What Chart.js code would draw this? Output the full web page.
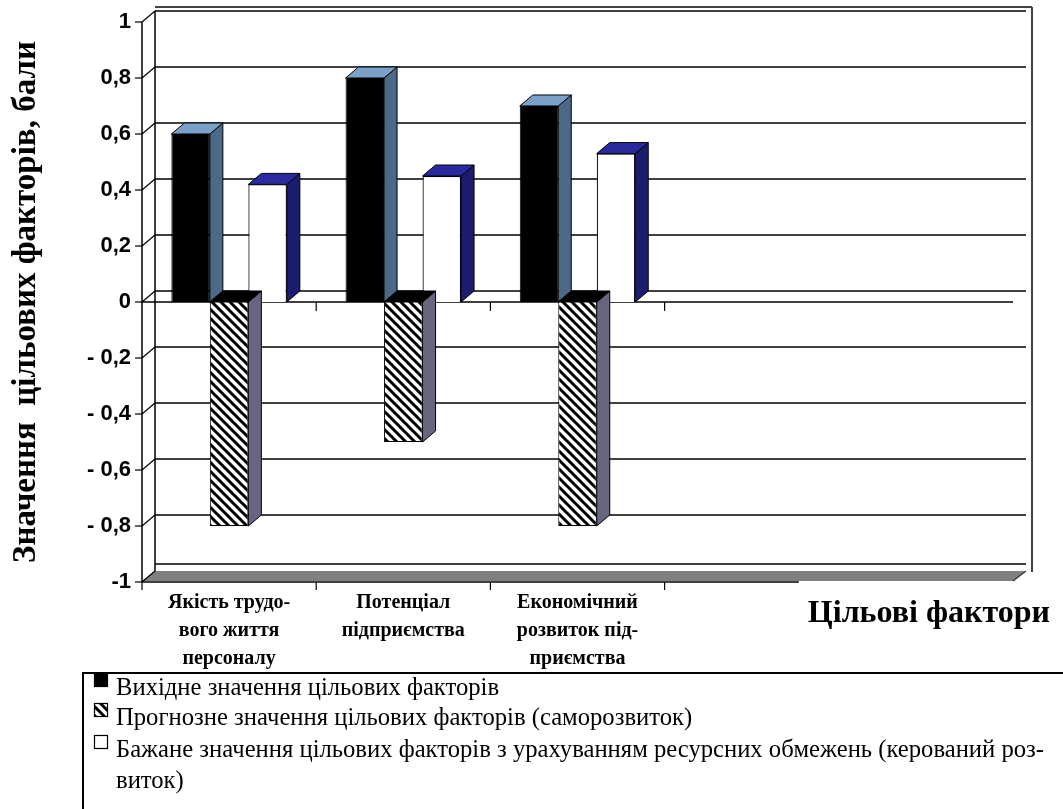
<!DOCTYPE html>
<html><head><meta charset="utf-8">
<script src="https://cdn.jsdelivr.net/npm/chart.js@4.4.0/dist/chart.umd.min.js"></script>
<style>html,body{margin:0;padding:0;background:#fff;}#wrap{width:1063px;height:809px;}</style>
</head><body><div id="wrap"><canvas id="c" width="1063" height="809"></canvas></div>
<script>
// ---- data ----
const categories = [["Якість трудо-","вого життя","персоналу"],["Потенціал","підприємства"],["Економічний","розвиток під-","приємства"],"",""];
const seriesNames = ["Вихідне значення цільових факторів","Прогнозне значення цільових факторів (саморозвиток)","Бажане значення цільових факторів з урахуванням ресурсних обмежень (керований розвиток)"];
const legendLines = [["Вихідне значення цільових факторів"],["Прогнозне значення цільових факторів (саморозвиток)"],["Бажане значення цільових факторів з урахуванням ресурсних обмежень (керований роз-","виток)"]];
const initialValues = [0.6, 0.8, 0.7, null, null];
const forecastValues = [-0.8, -0.5, -0.8, null, null];
const desiredValues = [0.42, 0.45, 0.53, null, null];
const yTickLabels = ["-1","- 0,8","- 0,6","- 0,4","- 0,2","0","0,2","0,4","0,6","0,8","1"];
const yTitle = "Значення  цільових факторів, бали";
const xTitle = "Цільові фактори";

// ---- styles ----
const DX = 13, DY = 11;
function hatchPattern(){
  const s=9, c=document.createElement('canvas'); c.width=c.height=s;
  const g=c.getContext('2d'); g.fillStyle='#fff'; g.fillRect(0,0,s,s);
  g.strokeStyle='#000'; g.lineWidth=3; g.beginPath();
  g.moveTo(-3,-3); g.lineTo(s+3,s+3); g.moveTo(-3,s-3); g.lineTo(3,s+3); g.moveTo(s-3,-3); g.lineTo(s+3,3); g.stroke();
  return g.createPattern(c,'repeat');
}
const HATCH = hatchPattern();
const faceColors = [
  {top:'#7CA1C8', side:'#4C6A88'},
  {top:'#000000', side:'#666680'},
  {top:'#2A2AA0', side:'#1D1D70'}
];

function poly(ctx, pts, fill){
  ctx.beginPath(); ctx.moveTo(pts[0][0],pts[0][1]);
  for(let i=1;i<pts.length;i++) ctx.lineTo(pts[i][0],pts[i][1]);
  ctx.closePath(); ctx.fillStyle=fill; ctx.fill(); ctx.strokeStyle='#000'; ctx.lineWidth=1; ctx.stroke();
}
function line(ctx,x1,y1,x2,y2,w,col){ctx.beginPath();ctx.moveTo(x1,y1);ctx.lineTo(x2,y2);ctx.lineWidth=w||1.5;ctx.strokeStyle=col||'#000';ctx.stroke();}

const scene = {
  id:'scene',
  beforeDatasetsDraw(chart){
    const ctx=chart.ctx, y=chart.scales.y, x=chart.scales.x, a=chart.chartArea;
    const L=a.left, R=a.right;
    ctx.save();
    line(ctx, L+DX, y.getPixelForValue(1)-DY-4, R+DX+6, y.getPixelForValue(1)-DY-4, 2, '#444');
    line(ctx, R+DX+6, y.getPixelForValue(1)-DY-4, R+DX+6, y.getPixelForValue(-1)-DY+1, 2, '#444');
    const yb=y.getPixelForValue(-1);
    ctx.beginPath(); ctx.moveTo(L,yb-1); ctx.lineTo(R,yb-1); ctx.lineTo(R+DX,yb-DY); ctx.lineTo(L+DX,yb-DY); ctx.closePath();
    ctx.fillStyle='#808080'; ctx.fill();
    line(ctx, R, yb-1, R+DX, yb-DY, 1.2, '#333');
    y.ticks.forEach(t=>{
      const py=y.getPixelForValue(t.value);
      const by = t.value<=-1 ? py-DY-7 : py-DY;
      line(ctx, L+DX, by, R+DX, by, 1.5);
      line(ctx, L, py, L+DX, py-DY, 1.2);
      line(ctx, L-7, py, L, py, 1.2);
    });
    line(ctx, L+DX, y.getPixelForValue(1)-DY, L+DX, yb-DY, 1.5);
    line(ctx, L, y.getPixelForValue(1), L, yb, 1.5);
    const y0=y.getPixelForValue(0);
    line(ctx, L, y0, R, y0, 1.5);
    for(let i=0;i<3;i++){
      const bx=(x.getPixelForValue(i)+x.getPixelForValue(i+1))/2;
      line(ctx, bx, y0, bx, y0+9, 1.2);
      line(ctx, bx, yb, bx, yb+8, 1.2);
    }
    line(ctx, L, yb, L, yb+8, 1.2);
    line(ctx, L, yb, (x.getPixelForValue(3)+x.getPixelForValue(4))/2-40, yb, 1.5);
    ctx.restore();
  },
  afterDatasetsDraw(chart){
    const ctx=chart.ctx;
    ctx.save();
    chart.data.datasets.forEach((ds,i)=>{
      const meta=chart.getDatasetMeta(i), fc=faceColors[i];
      meta.data.forEach((bar,j)=>{
        if(ds.data[j]==null) return;
        const l=bar.x-bar.width/2, r=bar.x+bar.width/2;
        const top=Math.min(bar.y,bar.base), bot=Math.max(bar.y,bar.base);
        poly(ctx, [[r,top],[r+DX,top-DY],[r+DX,bot-DY],[r,bot]], fc.side);
        poly(ctx, [[l,top],[r,top],[r+DX,top-DY],[l+DX,top-DY]], fc.top);
      });
    });
    ctx.restore();
  },
  afterDraw(chart){
    const ctx=chart.ctx;
    ctx.save();
    ctx.fillStyle='#000'; ctx.font='bold 32px "Liberation Serif"'; ctx.textAlign='right'; ctx.textBaseline='alphabetic';
    ctx.fillText(xTitle, 1050, 622);
    line(ctx, 83, 673, 1063, 673, 2);
    line(ctx, 83, 672, 83, 809, 2);
    const markers=['#000',HATCH,'#fff'];
    const rowsY=[695,725,757];
    ctx.font='25px "Liberation Serif"'; ctx.textAlign='left';
    const sx = (1044-116)/ctx.measureText(legendLines[2][0]).width;
    legendLines.forEach((lines,i)=>{
      const my=rowsY[i]-22;
      ctx.fillStyle=markers[i]; ctx.fillRect(94,my,14,14);
      ctx.strokeStyle='#000'; ctx.lineWidth=1.2; ctx.strokeRect(94.5,my+0.5,13,13);
      ctx.fillStyle='#000';
      lines.forEach((t,k)=>{
        ctx.save(); ctx.translate(116,rowsY[i]+k*31); ctx.scale(sx,1); ctx.fillText(t,0,0); ctx.restore();
      });
    });
    ctx.restore();
  }
};

new Chart(document.getElementById('c'), {
  type:'bar',
  data:{
    labels:categories,
    datasets:[
      {label:seriesNames[0], data:initialValues, backgroundColor:'#000', borderColor:'#000', borderWidth:1},
      {label:seriesNames[1], data:forecastValues, backgroundColor:HATCH, borderColor:'#000', borderWidth:1},
      {label:seriesNames[2], data:desiredValues, backgroundColor:'#fff', borderColor:'#000', borderWidth:1.2}
    ]
  },
  options:{
    responsive:false, animation:false, devicePixelRatio:1,
    layout:{padding:{top:22,right:50,left:0,bottom:0}},
    datasets:{bar:{categoryPercentage:0.663, barPercentage:1.0, skipNull:false}},
    plugins:{legend:{display:false}, tooltip:{enabled:false}},
    scales:{
      x:{
        grid:{display:false, drawTicks:false}, border:{display:false},
        ticks:{color:'#000', padding:7, maxRotation:0, autoSkip:false, font:{family:'"Liberation Serif"', weight:'bold', size:20, lineHeight:1.4}},
        afterFit(s){ s.height = 809-582; }
      },
      y:{
        min:-1, max:1,
        grid:{display:false, drawTicks:true, tickLength:8}, border:{display:false},
        ticks:{stepSize:0.2, color:'#000', padding:3, font:{family:'"Liberation Sans"', weight:'bold', size:22},
          callback:(v,i)=>yTickLabels[i]},
        title:{display:true, text:yTitle, color:'#000', padding:{top:7,bottom:0}, font:{family:'"Liberation Serif"', weight:'bold', size:33}},
        afterFit(s){ s.width = 142; }
      }
    }
  },
  plugins:[scene]
});
</script></body></html>
